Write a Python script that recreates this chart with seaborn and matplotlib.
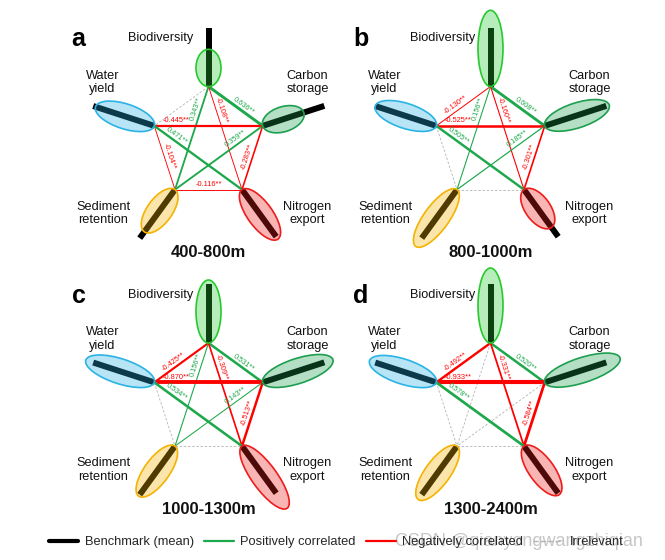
import numpy as np
import matplotlib
matplotlib.use("Agg")
import matplotlib.pyplot as plt
from matplotlib.patches import Ellipse
from matplotlib.lines import Line2D
from matplotlib.colors import to_rgba
import seaborn as sns

# ---------------- data ----------------
services = ["Biodiversity", "Carbon storage", "Nitrogen export", "Sediment retention", "Water yield"]
service_labels = ["Biodiversity", "Carbon\nstorage", "Nitrogen\nexport", "Sediment\nretention", "Water\nyield"]
service_colors = ["#27c92f", "#1e9e4f", "#ee1c1c", "#f3b300", "#2ab3e4"]
benchmark = [0.98, 1.08, 0.97, 1.00, 1.07]

panel_letters = ["a", "b", "c", "d"]
elevation_bands = ["400-800m", "800-1000m", "1000-1300m", "1300-2400m"]

# ellipse sizes (service value relative to benchmark scale), order = services
values_a = [0.62, 0.72, 1.02, 0.87, 1.03]
values_b = [1.27, 1.13, 0.78, 1.17, 1.07]
values_c = [1.05, 1.23, 1.28, 1.03, 1.20]
values_d = [1.25, 1.32, 1.00, 1.10, 1.17]

pairs = [("Biodiversity", "Carbon storage"),
         ("Biodiversity", "Water yield"),
         ("Biodiversity", "Sediment retention"),
         ("Biodiversity", "Nitrogen export"),
         ("Water yield", "Carbon storage"),
         ("Carbon storage", "Sediment retention"),
         ("Carbon storage", "Nitrogen export"),
         ("Water yield", "Sediment retention"),
         ("Water yield", "Nitrogen export"),
         ("Sediment retention", "Nitrogen export")]
nan = np.nan
corr_a = [0.636, nan, 0.343, -0.108, -0.445, 0.359, -0.283, -0.104, 0.471, -0.116]
corr_b = [0.608, -0.130, 0.156, -0.160, -0.525, 0.185, -0.301, nan, 0.505, nan]
corr_c = [0.531, -0.425, 0.156, -0.309, -0.870, 0.143, -0.513, nan, 0.534, nan]
corr_d = [0.520, -0.492, nan, -0.331, -0.933, nan, -0.584, nan, 0.578, nan]

legend_labels = ["Benchmark (mean)", "Positively correlated", "Negatively correlated", "Irrelevant"]

# ---------------- layout / style ----------------
GREEN = "#1da84b"
RED = "#ff0000"
GRAY = "#b4b4b4"
W, H = 665, 560
centers = [(208.5, H - 143.5), (490.5, H - 143.5), (208.5, H - 400.0), (490.5, H - 400.0)]
angles = [90, 18, -54, -126, 162]
R = 57.0
SCALE = 60.0
ELL_W = 25.0
label_t = [0.6, 0.58, 0.23, 0.25, 0.2, 0.27, 0.5, 0.5, 0.22, 0.5]
name_offsets = [(-48, 105), (99, 61), (99, -70), (-105, -70), (-106, 61)]

sns.set_theme(style="white")
plt.rcParams["font.family"] = ["Liberation Sans", "DejaVu Sans"]

fig = plt.figure(figsize=(W / 100, H / 100), dpi=100)
ax = fig.add_axes([0, 0, 1, 1])

panel_values = [values_a, values_b, values_c, values_d]
panel_corr = [corr_a, corr_b, corr_c, corr_d]

for p, (cx, cy) in enumerate(centers):
    pos = {}
    dirs = {}
    for s, ang in zip(services, angles):
        d = (np.cos(np.radians(ang)), np.sin(np.radians(ang)))
        dirs[s] = d
        pos[s] = (cx + R * d[0], cy + R * d[1])

    # correlation edges
    for (s1, s2), r, t in zip(pairs, panel_corr[p], label_t):
        x1, y1 = pos[s1]
        x2, y2 = pos[s2]
        if np.isnan(r):
            sns.lineplot(x=[x1, x2], y=[y1, y2], color=GRAY, linewidth=0.6,
                         linestyle=(0, (3, 2)), estimator=None, sort=False,
                         ax=ax, zorder=1)
            continue
        col = GREEN if r > 0 else RED
        sns.lineplot(x=[x1, x2], y=[y1, y2], color=col, linewidth=0.35 + 2.8 * abs(r),
                     estimator=None, sort=False, ax=ax, zorder=1)
        rot = np.degrees(np.arctan2(y2 - y1, x2 - x1))
        if rot > 90:
            rot -= 180
        if rot <= -90:
            rot += 180
        nx, ny = -np.sin(np.radians(rot)), np.cos(np.radians(rot))
        lx = x1 + t * (x2 - x1) + 1.5 * nx
        ly = y1 + t * (y2 - y1) + 1.5 * ny
        ax.text(lx, ly, f"{r:.3f}**", fontsize=5.3, color=col, rotation=rot,
                rotation_mode="anchor", ha="center", va="bottom", zorder=5)

    # benchmark bars and ellipses
    for s, lab, col, bm, v, off in zip(services, service_labels, service_colors,
                                       benchmark, panel_values[p], name_offsets):
        vx, vy = pos[s]
        dx, dy = dirs[s]
        bl = bm * SCALE
        sns.lineplot(x=[vx, vx + dx * bl], y=[vy, vy + dy * bl], color="black",
                     linewidth=4.3, solid_capstyle="butt", estimator=None,
                     sort=False, ax=ax, zorder=2)
        L = v * SCALE
        ang = np.degrees(np.arctan2(dy, dx))
        e = Ellipse((vx + dx * L / 2, vy + dy * L / 2), width=L, height=ELL_W, angle=ang,
                    facecolor=to_rgba(col, 0.33), edgecolor=col, linewidth=1.2, zorder=3)
        ax.add_patch(e)
        ax.text(cx + off[0], cy + off[1], lab, fontsize=9.2, color="#111111",
                ha="center", va="center", linespacing=1.2, zorder=6)

    ax.text(cx - 130, cy + 104, panel_letters[p], fontsize=18, fontweight="bold",
            ha="center", va="center", color="black")
    ax.text(cx, cy - 109, elevation_bands[p], fontsize=12, fontweight="bold",
            ha="center", va="center", color="#111111")

ax.set_xlim(0, W)
ax.set_ylim(0, H)
ax.set_aspect("equal")
ax.axis("off")
if ax.get_legend() is not None:
    ax.get_legend().remove()

handles = [Line2D([], [], color="black", linewidth=3.0),
           Line2D([], [], color=GREEN, linewidth=1.6),
           Line2D([], [], color=RED, linewidth=1.6),
           Line2D([], [], color=GRAY, linewidth=1.0, linestyle="--")]
fig.legend(handles, legend_labels, loc="center", bbox_to_anchor=(336 / W, 1 - 542 / H),
           ncol=4, frameon=False, fontsize=9.3, handlelength=2.3, handletextpad=0.5,
           columnspacing=0.8)

ax.text(395, H - 541, "CSDN @qianyongwangzhiqian", fontsize=13, color="#999999",
        alpha=0.55, ha="left", va="center", zorder=10)

fig.savefig("out.png", dpi=100)
